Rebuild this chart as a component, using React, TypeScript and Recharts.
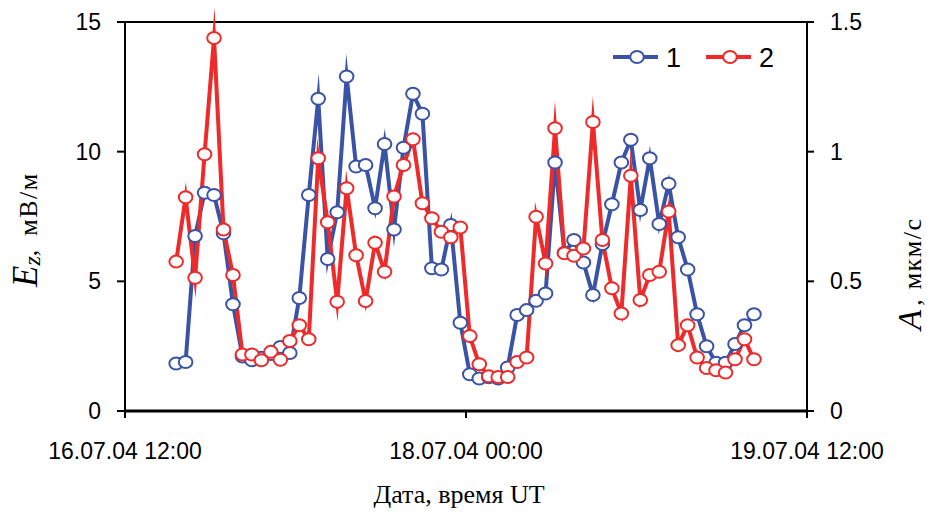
import React from 'react';
import { LineChart, Line, XAxis, YAxis, ReferenceLine, Legend, Label } from 'recharts';

// hours since 16.07.04 12:00 UT
const hours = [
  5.4, 6.4, 7.4, 8.4, 9.4, 10.4, 11.4, 12.4, 13.4, 14.4,
  15.4, 16.4, 17.4, 18.4, 19.4, 20.4, 21.4, 22.4, 23.4, 24.4,
  25.4, 26.4, 27.4, 28.4, 29.4, 30.4, 31.4, 32.4, 33.4, 34.4,
  35.4, 36.4, 37.4, 38.4, 39.4, 40.4, 41.4, 42.4, 43.4, 44.4,
  45.4, 46.4, 47.4, 48.4, 49.4, 50.4, 51.4, 52.4, 53.4, 54.4,
  55.4, 56.4, 57.4, 58.4, 59.4, 60.4, 61.4, 62.4, 63.4, 64.4,
  65.4, 66.4,
];

// series 1: Ez, mV/m (left axis)
const ezValues = [
  1.83, 1.89, 6.75, 8.42, 8.33, 6.85, 4.12, 2.1, 1.96, 2.05,
  2.2, 2.47, 2.24, 4.36, 8.33, 12.04, 5.86, 7.66, 12.9, 9.43,
  9.49, 7.82, 10.3, 7.0, 10.15, 12.23, 11.46, 5.5, 5.46, 7.17,
  3.4, 1.42, 1.25, 1.3, 1.25, 1.68, 3.7, 3.89, 4.25, 4.53,
  9.58, 6.1, 6.59, 5.73, 4.47, 6.44, 7.97, 9.58, 10.46, 7.75,
  9.75, 7.21, 8.76, 6.7, 5.46, 3.73, 2.5, 1.86, 1.86, 2.58,
  3.31, 3.73,
];

// series 2: A, um/s (right axis)
const amplitudeValues = [
  0.576, 0.824, 0.514, 0.99, 1.438, 0.7, 0.524, 0.218, 0.218, 0.196,
  0.228, 0.198, 0.27, 0.331, 0.277, 0.975, 0.728, 0.421, 0.859, 0.601,
  0.424, 0.649, 0.537, 0.827, 0.949, 1.048, 0.801, 0.743, 0.691, 0.67,
  0.708, 0.289, 0.18, 0.134, 0.131, 0.131, 0.189, 0.206, 0.749, 0.569,
  1.09, 0.608, 0.599, 0.627, 1.114, 0.659, 0.473, 0.376, 0.907, 0.428,
  0.524, 0.537, 0.769, 0.254, 0.331, 0.206, 0.166, 0.157, 0.148, 0.2,
  0.277, 0.2,
];

const xTicks = [0, 36, 72];
const xTickLabels = ['16.07.04 12:00', '18.07.04 00:00', '19.07.04 12:00'];
const leftTicks = [0, 5, 10, 15];
const rightTicks = [0, 0.5, 1, 1.5];
const seriesNames = ['1', '2'];

const BLUE = '#3A53A4';
const RED = '#EE2A2A';
const SANS = '"Liberation Sans", Arial, sans-serif';
const SERIF = '"Liberation Serif", "Times New Roman", serif';

const data = hours.map((t, i) => ({ t, ez: ezValues[i], a: amplitudeValues[i] }));

const makeDot = (color: string) => (props: any) => {
  const { cx, cy, index } = props;
  if (cx == null || cy == null) return <g key={`e${index}`} />;
  return (
    <ellipse key={`d${index}`} cx={cx} cy={cy} rx={6.8} ry={6} fill="#fff" stroke={color} strokeWidth={2} />
  );
};

const renderLegend = (props: any) => {
  const payload = props.payload || [];
  return (
    <svg width={190} height={44} style={{ display: 'block' }}>
      {payload.map((entry: any, i: number) => {
        const x0 = i * 93;
        return (
          <g key={i}>
            <line x1={x0} y1={22} x2={x0 + 45} y2={22} stroke={entry.color} strokeWidth={4} />
            <ellipse cx={x0 + 24} cy={22} rx={6.8} ry={6} fill="#fff" stroke={entry.color} strokeWidth={2} />
            <text x={x0 + 53} y={32} fontSize={27} fontFamily={SANS} fill="#000">
              {entry.value}
            </text>
          </g>
        );
      })}
    </svg>
  );
};

const leftTitle = (props: any) => {
  const vb = props.viewBox || { x: 0, y: 22, width: 125, height: 389 };
  const x = vb.x + 37;
  const y = vb.y + 265;
  return (
    <text x={x} y={y} transform={`rotate(-90 ${x} ${y})`} fill="#000" fontFamily={SERIF} textAnchor="start">
      <tspan fontSize={35} fontStyle="italic">E</tspan>
      <tspan fontSize={24} fontStyle="italic" dy={3}>z</tspan>
      <tspan fontSize={26} dy={-3}>,</tspan>
      <tspan fontSize={26} dx={14} letterSpacing={1.5}>мВ/м</tspan>
    </text>
  );
};

const rightTitle = (props: any) => {
  const vb = props.viewBox || { x: 807, y: 22, width: 120, height: 389 };
  const x = vb.x + 114;
  const y = vb.y + 308;
  return (
    <text x={x} y={y} transform={`rotate(-90 ${x} ${y})`} fill="#000" fontFamily={SERIF} textAnchor="start">
      <tspan fontSize={33} fontStyle="italic">A</tspan>
      <tspan fontSize={26} dx={4}>,</tspan>
      <tspan fontSize={26} dx={10} letterSpacing={1.5}>мкм/с</tspan>
    </text>
  );
};

const bottomTitle = (props: any) => {
  const vb = props.viewBox || { x: 125, y: 411, width: 682, height: 107 };
  return (
    <text x={459} y={vb.y + 92} textAnchor="middle" fontFamily={SERIF} fontSize={26} fill="#000">
      Дата, время UT
    </text>
  );
};

const tickStyle = { fill: '#000', fontSize: 23, fontFamily: SANS };

export default function App() {
  return (
    <div style={{ position: 'absolute', left: 0, top: 0, width: 927, height: 518, background: '#fff' }}>
      <LineChart width={927} height={518} data={data} margin={{ top: 22, right: 0, bottom: 0, left: 0 }}>
        <XAxis
          dataKey="t"
          type="number"
          domain={[0, 72]}
          ticks={xTicks}
          interval={0}
          tickFormatter={(v: number) => xTickLabels[xTicks.indexOf(v)]}
          height={107}
          tickSize={7}
          tickMargin={25}
          tick={tickStyle}
          axisLine={{ stroke: '#000', strokeWidth: 3 }}
          tickLine={{ stroke: '#000', strokeWidth: 2 }}
        >
          <Label content={bottomTitle} />
        </XAxis>
        <YAxis
          yAxisId="left"
          width={125}
          domain={[0, 15]}
          ticks={leftTicks}
          interval={0}
          tickSize={8}
          tickMargin={16}
          tick={tickStyle}
          axisLine={{ stroke: '#000', strokeWidth: 2 }}
          tickLine={{ stroke: '#000', strokeWidth: 2 }}
        >
          <Label content={leftTitle} />
        </YAxis>
        <YAxis
          yAxisId="right"
          orientation="right"
          width={120}
          domain={[0, 1.5]}
          ticks={rightTicks}
          interval={0}
          tickSize={7}
          tickMargin={16}
          tick={tickStyle}
          axisLine={{ stroke: '#000', strokeWidth: 2 }}
          tickLine={{ stroke: '#000', strokeWidth: 2 }}
        >
          <Label content={rightTitle} />
        </YAxis>
        <ReferenceLine yAxisId="left" y={15} stroke="#000" strokeWidth={2} />
        <Legend
          layout="vertical"
          align="center"
          verticalAlign="middle"
          content={renderLegend}
          wrapperStyle={{ position: 'absolute', left: 613, top: 35, width: 190, height: 44 }}
        />
        <Line
          yAxisId="left"
          name={seriesNames[0]}
          dataKey="ez"
          type="linear"
          stroke={BLUE}
          strokeWidth={4}
          strokeLinejoin="miter"
          strokeMiterlimit={20}
          dot={makeDot(BLUE)}
          activeDot={false}
          isAnimationActive={false}
        />
        <Line
          yAxisId="right"
          name={seriesNames[1]}
          dataKey="a"
          type="linear"
          stroke={RED}
          strokeWidth={4}
          strokeLinejoin="miter"
          strokeMiterlimit={20}
          dot={makeDot(RED)}
          activeDot={false}
          isAnimationActive={false}
        />
      </LineChart>
    </div>
  );
}
